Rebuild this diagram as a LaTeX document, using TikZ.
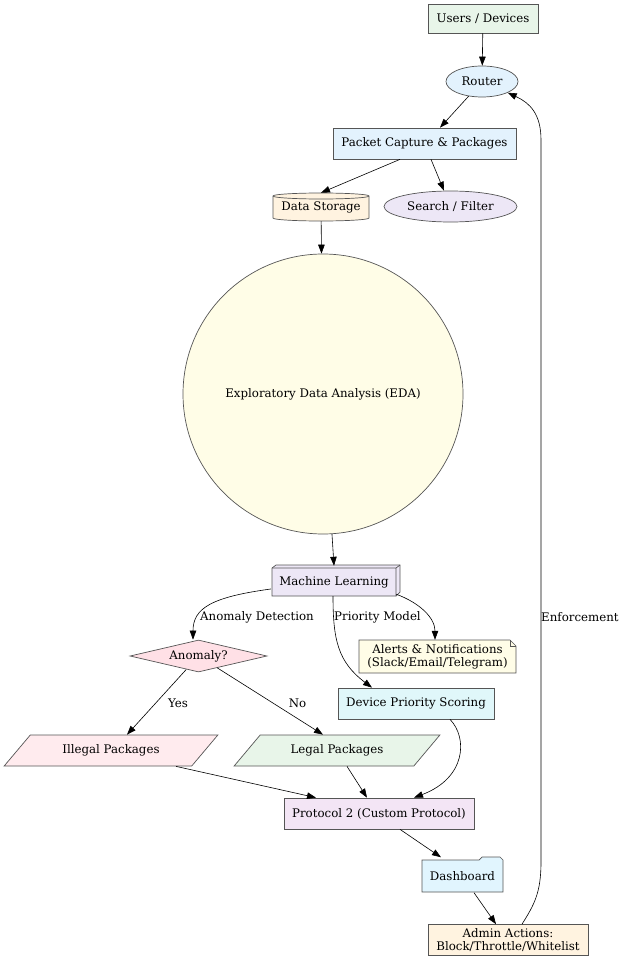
\documentclass[tikz,border=0pt]{standalone}
\usepackage{fontspec}
\setmainfont{DejaVu Serif}
\usetikzlibrary{shapes.geometric,arrows.meta}
\definecolor{bordc}{HTML}{555555}
\definecolor{cgreen}{HTML}{E8F5E9}
\definecolor{cblue}{HTML}{E3F2FD}
\definecolor{corange}{HTML}{FFF3E0}
\definecolor{cviolet}{HTML}{EDE7F6}
\definecolor{cyellow}{HTML}{FFFDE7}
\definecolor{cpink}{HTML}{FFE0E6}
\definecolor{cpinkl}{HTML}{FFEBEE}
\definecolor{ccyan}{HTML}{E0F7FA}
\definecolor{cpurple}{HTML}{F3E5F5}
\definecolor{csky}{HTML}{E1F5FE}
\tikzset{
  base/.style={draw=bordc, line width=0.7pt, inner sep=0pt, font=\fontsize{11.8}{13.2}\selectfont, align=center},
  boxn/.style={base, rectangle},
  ghost/.style={inner sep=0pt, font=\fontsize{11.8}{13.2}\selectfont, align=center},
  arr/.style={draw=black, line width=0.6pt, -{Triangle[length=9pt,width=6.5pt]}},
  elab/.style={inner sep=0pt, font=\fontsize{11.8}{13.2}\selectfont}
}
\begin{document}
\begin{tikzpicture}[x=1pt,y=-1pt]
\useasboundingbox (0,0) rectangle (624,960);
% nodes
\node[boxn, fill=cgreen, minimum width=110pt, minimum height=29pt] (users) at (483,18.5) {Users / Devices};
\node[base, ellipse, fill=cblue, minimum width=72pt, minimum height=31pt] (router) at (482,81.5) {Router};
\node[boxn, fill=cblue, minimum width=183pt, minimum height=31pt] (pcap) at (424.5,143.5) {Packet Capture \& Packages};
% data storage cylinder
\draw[draw=bordc, line width=0.7pt, fill=corange] (273,196) -- (273,218) arc[start angle=180, end angle=0, x radius=48, y radius=3] -- (369,196) arc[start angle=0, end angle=-180, x radius=48, y radius=3] -- cycle;
\draw[draw=bordc, line width=0.7pt] (273,196) arc[start angle=180, end angle=0, x radius=48, y radius=3];
\node[ghost, minimum width=96pt, minimum height=28pt] (ds) at (321,207) {Data Storage};
\node[base, ellipse, fill=cviolet, minimum width=133pt, minimum height=31pt] (search) at (450.5,206.5) {Search / Filter};
\node[base, circle, fill=cyellow, minimum size=280pt] (eda) at (323,394) {Exploratory Data Analysis (EDA)};
% machine learning box3d
\draw[draw=bordc, line width=0.7pt, fill=cviolet] (272,568) -- (276,565) -- (400,565) -- (400,592) -- (396,596) -- (272,596) -- cycle;
\draw[draw=bordc, line width=0.7pt] (272,568) -- (396,568) -- (396,596) (396,568) -- (400,565);
\node[ghost, minimum width=126pt, minimum height=30pt] (ml) at (334,581) {};
\node[ghost] at (334,582) {Machine Learning};
\node[base, diamond, aspect=4.28, fill=cpink, minimum width=137pt, minimum height=32pt] (anom) at (198.5,656) {Anomaly?};
% alerts note
\draw[draw=bordc, line width=0.7pt, fill=cyellow] (359,640) -- (510,640) -- (516,646) -- (516,673) -- (359,673) -- cycle;
\draw[draw=bordc, line width=0.7pt] (510,640) -- (510,646) -- (516,646);
\node[ghost, minimum width=157pt, minimum height=33pt] (alerts) at (437.5,656.5) {Alerts \& Notifications\\(Slack/Email/Telegram)};
\node[boxn, fill=ccyan, minimum width=156pt, minimum height=31pt] (dps) at (416,703.5) {Device Priority Scoring};
\node[base, trapezium, trapezium left angle=36.4, trapezium right angle=143.6, trapezium stretches=true, fill=cpinkl, minimum width=214pt, minimum height=31pt] (illegal) at (111,750.5) {Illegal Packages};
\node[base, trapezium, trapezium left angle=36.4, trapezium right angle=143.6, trapezium stretches=true, fill=cgreen, minimum width=206pt, minimum height=31pt] (legal) at (337,750.5) {Legal Packages};
\node[boxn, fill=cpurple, minimum width=190pt, minimum height=31pt] (proto) at (379,813.5) {Protocol 2 (Custom Protocol)};
% dashboard folder
\draw[draw=bordc, line width=0.7pt, fill=csky] (422,860) -- (479,860) -- (482,857) -- (500,857) -- (503,860) -- (503,892) -- (422,892) -- cycle;
\node[ghost, minimum width=81pt, minimum height=35pt] (dash) at (462.5,875) {};
\node[ghost] at (462.5,876) {Dashboard};
\node[boxn, fill=corange, minimum width=160pt, minimum height=31pt] (admin) at (508,940) {Admin Actions:\\Block/Throttle/Whitelist};
% edges
\draw[arr] (users) -- (router);
\draw[arr] (router) -- (pcap.north -| 440,0);
\draw[arr] (pcap.south -| 400,0) -- (ds.north);
\draw[arr] (pcap.south -| 431,0) -- (search);
\draw[arr] (ds) -- (eda);
\draw[arr] (eda) -- (ml.north);
\draw[arr] ([yshift=-8pt]ml.west) .. controls (212,597) and (193,608) .. (anom.north -| 193,0);
\draw[arr] (ml.south -| 333,0) .. controls (333,640) and (338,662) .. (dps.north -| 372,0);
\draw[arr] ([xshift=-1pt,yshift=2pt]ml.south east) .. controls (420,603) and (435,618) .. (alerts.north -| 435,0);
\draw[arr] (anom) -- (illegal.north -| 127,0);
\draw[arr] (anom) -- (legal.north -| 323,0);
\draw[arr] (illegal.south -| 176,0) -- (proto.north -| 316,0);
\draw[arr] (legal.south -| 347,0) -- (proto.north -| 367,0);
\draw[arr] (dps.south -| 450,0) .. controls (468,738) and (466,778) .. (proto.north -| 414,0);
\draw[arr] (proto.south -| 400,0) -- (dash.north -| 441,0);
\draw[arr] (dash.south -| 474,0) -- (admin.north -| 496,0);
\draw[arr] (admin.north -| 522,0) .. controls (534,905) and (541,893) .. (541,862) -- (541,140) .. controls (541,114) and (530,103) .. (router.south east);
% edge labels
\node[elab] (lad) at (257,617.5) {Anomaly Detection};
\node[elab] (lpm) at (377.5,617.5) {Priority Model};
\node[elab] (lyes) at (178,703.5) {Yes};
\node[elab] (lno) at (297.5,703.5) {No};
\node[elab, anchor=west] (lenf) at (541,617.5) {Enforcement};
\end{tikzpicture}
\end{document}
